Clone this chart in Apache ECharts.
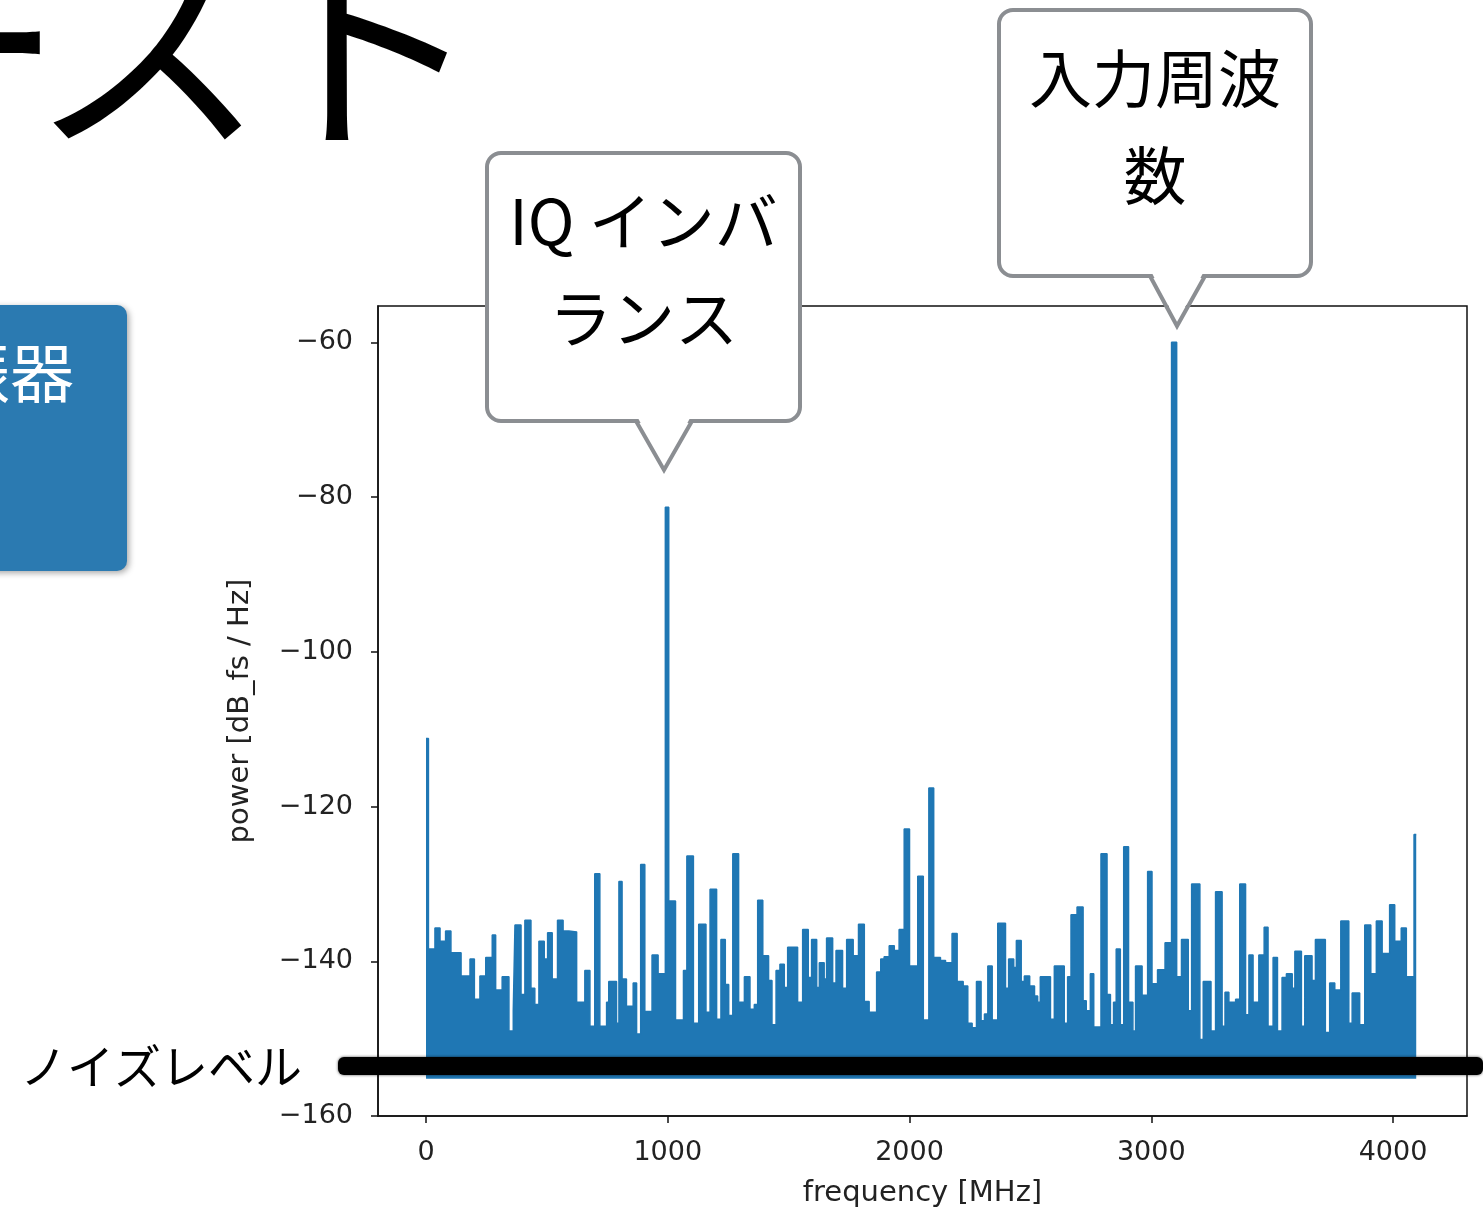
<!DOCTYPE html>
<html>
<head>
<meta charset="utf-8">
<script src="https://cdn.jsdelivr.net/npm/echarts@6/dist/echarts.min.js"></script>
<style>
html,body{margin:0;padding:0;background:#fff;}
#chart{width:1483px;height:1213px;}
</style>
</head>
<body>
<div id="chart"></div>
<script>
// ---- data ----
// start frequency of each spectral block (MHz)
const freqMHz = [0,10,37,58,81,103,145,182,200,223,247,274,288,315,343,361,368,393,409,434,450,467,489,503,522,544,567,591,623,657,678,698,719,747,756,788,798,811,829,857,871,888,905,935,960,
990,1004,1032,1065,1079,1106,1128,1158,1175,1202,1220,1238,1252,1269,1293,1317,1340,1358,1372,1393,1417,1431,1448,1464,1482,1496,1537,1558,1581,1595,1616,1627,1647,1657,1682,1696,1723,1740,1767,1789,1813,1833,1864,1881,1895,1916,1937,1957,1978,
2000,2034,2057,2080,2100,2128,2149,2176,2197,2222,2241,2259,2277,2296,2310,2324,2342,2365,2397,2410,2431,2442,2462,2475,2497,2517,2530,2541,2583,2599,2640,2654,2668,2693,2718,2731,2748,2762,2792,2817,2831,2844,2855,2872,2886,2906,2924,2935,2962,2985,
3003,3026,3057,3084,3105,3125,3153,3167,3201,3215,3247,3266,3293,3305,3321,3349,3366,3390,3404,3421,3445,3467,3483,3504,3522,3541,3559,3583,3594,3621,3635,3665,3679,3720,3738,3759,3784,3817,3831,3862,3883,3908,3931,3955,3986,4007,4034,4055,4087,4096];
// power level of each block (dB_fs / Hz)
const powerDb = [-111.2,-138.4,-135.7,-137.4,-136.1,-138.9,-141.9,-139.7,-144.9,-141.9,-139.5,-136.6,-143.7,-142,-149,-146.4,-135.3,-144.3,-134.7,-143.5,-145.6,-137.4,-139.7,-136.3,-142.3,-134.7,-136.1,-136.2,-145.3,-141.2,-148.4,-128.7,-148.4,-145.3,-142.6,-148,-129.7,-142.3,-145.8,-142.8,-149.4,-127.5,-146.5,-139.2,-141.6,
-81.3,-132.2,-147.6,-141.2,-126.4,-148,-135.2,-146.6,-130.7,-147.5,-137.2,-143,-147,-126.1,-145.3,-142,-146.2,-145.6,-132.1,-139.3,-142.5,-148.2,-141.2,-140.4,-143.4,-138.2,-145.3,-135.9,-142.1,-137.2,-143.4,-140.2,-142.3,-137,-142.8,-138.6,-143.5,-137.2,-139.3,-135.2,-145.2,-146.6,-141.4,-139.7,-139.4,-138,-138.6,-135.9,-122.9,
-140.6,-129,-147.6,-117.6,-139.5,-139.9,-140.2,-136.4,-142.6,-143.2,-148,-148.6,-142.6,-147.7,-146.8,-140.6,-147.6,-135.1,-143.5,-139.7,-140.8,-137.3,-142.6,-141.9,-143.2,-144.5,-145.3,-142,-147.5,-140.6,-148,-142,-134,-133,-145.1,-146.4,-141.6,-148.5,-126.1,-144.3,-148.2,-145.3,-138.4,-148.2,-125.2,-145.3,-149,-140.6,-144.4,-128.4,
-142.9,-141.1,-137.6,-60,-142,-137.2,-146.4,-130,-150.1,-142.6,-149,-131,-148.4,-144,-145.3,-144.9,-130,-146.9,-139.2,-145.3,-139.2,-135.6,-148.4,-139.5,-149,-142.1,-141.6,-143.5,-138.7,-148.4,-139.3,-142.5,-137.2,-149.2,-142.8,-143.7,-134.8,-148,-144.1,-148.2,-135.3,-141.6,-134.8,-139,-132.7,-137.4,-135.7,-142,-123.6,-123.6];
const noiseFloorDb = -155.2;
const xTicks = [0, 1000, 2000, 3000, 4000];
const yTicks = [-160, -140, -120, -100, -80, -60];

const spectrum = freqMHz.map((f, i) => [f, powerDb[i]]);

const FONT = 'DejaVu Sans';
const JP = '"Noto Sans CJK JP", "Noto Sans", sans-serif';
const minus = v => String(v).replace('-', '\u2212');
const GRAY = '#8b8e92';

function callout(x, y, w, h, bx1, bx2, tipX, tipY, lines, cy) {
  return [
    { type: 'rect', z: 200, shape: { x: x, y: y, width: w, height: h, r: 14 },
      style: { fill: '#fff', stroke: GRAY, lineWidth: 4 } },
    { type: 'polygon', z: 201, shape: { points: [[bx1 + 2, y + h - 3], [bx2 - 2, y + h - 3], [tipX, tipY - 3]] },
      style: { fill: '#fff' } },
    { type: 'polyline', z: 202, shape: { points: [[bx1, y + h], [tipX, tipY], [bx2, y + h]] },
      style: { stroke: GRAY, lineWidth: 4, fill: null } },
    { type: 'text', z: 203, x: x + w / 2, y: cy,
      style: { text: lines, fill: '#000', font: '63px ' + JP, align: 'center', verticalAlign: 'middle', lineHeight: 97 } }
  ];
}

function titleChar(ch, left) {
  return { type: 'text', z: 50, x: left, y: -74,
    style: { text: ch, fill: '#000', font: '235px ' + JP, align: 'left', verticalAlign: 'top' } };
}

const chart = echarts.init(document.getElementById('chart'), null, { renderer: 'canvas' });
chart.setOption({
  backgroundColor: '#ffffff',
  animation: false,
  grid: { left: 378, top: 306, right: 16, bottom: 97, show: true, borderColor: '#111', borderWidth: 1.5 },
  xAxis: {
    type: 'value', min: -198.6, max: 4306,
    name: 'frequency [MHz]', nameLocation: 'middle', nameGap: 63,
    nameTextStyle: { fontFamily: FONT, fontSize: 29, color: '#222' },
    axisLine: { show: true, onZero: false, lineStyle: { color: '#111', width: 1.5 } },
    axisTick: { show: true, length: 7, lineStyle: { color: '#111', width: 1.5 }, customValues: xTicks },
    axisLabel: { customValues: xTicks, margin: 23, fontFamily: FONT, fontSize: 27, color: '#222', formatter: v => minus(v) },
    splitLine: { show: false }
  },
  yAxis: {
    type: 'value', min: -160, max: -55.3,
    name: 'power [dB_fs / Hz]', nameLocation: 'middle', nameGap: 123, nameRotate: 90,
    nameTextStyle: { fontFamily: FONT, fontSize: 29, color: '#222' },
    axisLine: { show: true, onZero: false, lineStyle: { color: '#111', width: 1.5 } },
    axisTick: { show: true, length: 7, lineStyle: { color: '#111', width: 1.5 }, customValues: yTicks },
    axisLabel: { customValues: yTicks, margin: 25, fontFamily: FONT, fontSize: 27, color: '#222', formatter: v => minus(v) },
    splitLine: { show: false }
  },
  series: [{
    type: 'line', data: spectrum, step: 'end', symbol: 'none',
    lineStyle: { color: '#1f77b4', width: 1.5 },
    areaStyle: { color: '#1f77b4', opacity: 1, origin: noiseFloorDb },
    z: 2
  }],
  graphic: [
    // slide title (cropped at the top)
    titleChar('ー', -171),
    titleChar('ス', 30),
    titleChar('ト', 248),
    // blue box on the left
    { type: 'rect', z: 50, shape: { x: -20, y: 305, width: 147, height: 266, r: 10 },
      style: { fill: '#2b7ab1', shadowBlur: 6, shadowOffsetX: 2, shadowOffsetY: 2, shadowColor: 'rgba(0,0,0,0.35)' } },
    { type: 'text', z: 51, x: 74, y: 373,
      style: { text: '振器', fill: '#fff', font: '64px ' + JP, align: 'right', verticalAlign: 'middle' } },
    // noise level annotation
    { type: 'text', z: 60, x: 20, y: 1066,
      style: { text: 'ノイズレベル', fill: '#000', font: '47px ' + JP, align: 'left', verticalAlign: 'middle' } },
    { type: 'rect', z: 100, shape: { x: 338, y: 1057, width: 1145, height: 18, r: 6 },
      style: { fill: '#000', shadowBlur: 3, shadowColor: 'rgba(0,0,0,0.7)' } },
    ...callout(487, 153, 313, 268, 636, 692, 664, 470, 'IQ インバ\nランス', 270),
    ...callout(999, 10, 312, 266, 1150, 1205, 1177, 326, '入力周波\n数', 127)
  ]
});
</script>
</body>
</html>
